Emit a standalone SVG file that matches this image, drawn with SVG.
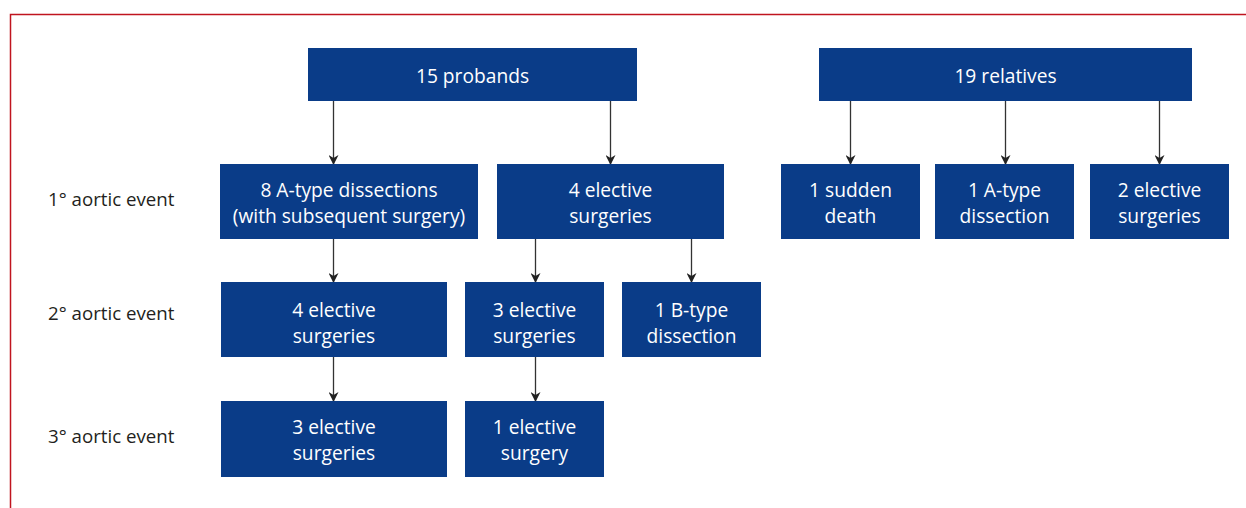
<svg xmlns="http://www.w3.org/2000/svg" width="1246" height="508" viewBox="0 0 1246 508">
<style>
.box{fill:#0a3c88}
.t{font-family:"Open Sans","Liberation Sans",sans-serif;font-size:19.2px;fill:#fff;text-anchor:middle}
.lab{font-family:"Open Sans","Liberation Sans",sans-serif;font-size:18.7px;fill:#231f20}
.c{stroke:#333;stroke-width:1.3;fill:none;marker-end:url(#ah)}
</style>
<defs>
<marker id="ah" markerWidth="10" markerHeight="10" refX="9" refY="5" orient="auto" markerUnits="userSpaceOnUse">
<path d="M0,0 L10,5 L0,10 L3,5 z" fill="#222"/>
</marker>
</defs>
<rect width="1246" height="508" fill="#fff"/>
<path d="M10.5,508 V14.5 H1246" fill="none" stroke="#c0141f" stroke-width="1.5"/>
<text class="lab" x="48" y="206">1° aortic event</text>
<text class="lab" x="48" y="320">2° aortic event</text>
<text class="lab" x="48" y="443">3° aortic event</text>
<g id="connectors">
<line class="c" x1="333.5" y1="100" x2="333.5" y2="164"/>
<line class="c" x1="610.5" y1="100" x2="610.5" y2="164"/>
<line class="c" x1="850.5" y1="100" x2="850.5" y2="164"/>
<line class="c" x1="1005.5" y1="100" x2="1005.5" y2="164"/>
<line class="c" x1="1159.5" y1="100" x2="1159.5" y2="164"/>
<line class="c" x1="333.5" y1="239" x2="333.5" y2="282"/>
<line class="c" x1="535.5" y1="239" x2="535.5" y2="282"/>
<line class="c" x1="691.5" y1="239" x2="691.5" y2="282"/>
<line class="c" x1="333.5" y1="357" x2="333.5" y2="401"/>
<line class="c" x1="535.5" y1="357" x2="535.5" y2="401"/>
</g>
<g id="probands"><rect class="box" x="308" y="48" width="329" height="53"/><text class="t" x="472.5" y="82.5">15 probands</text></g>
<g id="relatives"><rect class="box" x="819" y="48" width="373" height="53"/><text class="t" x="1005.5" y="82.5">19 relatives</text></g>
<g id="a8"><rect class="box" x="220" y="164" width="258" height="75"/><text class="t" x="349" y="197">8 A-type dissections</text><text class="t" x="349" y="223">(with subsequent surgery)</text></g>
<g id="e4"><rect class="box" x="497" y="164" width="227" height="75"/><text class="t" x="610.5" y="197">4 elective</text><text class="t" x="610.5" y="223">surgeries</text></g>
<g id="sd1"><rect class="box" x="781" y="164" width="139" height="75"/><text class="t" x="850.5" y="197">1 sudden</text><text class="t" x="850.5" y="223">death</text></g>
<g id="ra1"><rect class="box" x="935" y="164" width="139" height="75"/><text class="t" x="1004.5" y="197">1 A-type</text><text class="t" x="1004.5" y="223">dissection</text></g>
<g id="re2"><rect class="box" x="1090" y="164" width="139" height="75"/><text class="t" x="1159.5" y="197">2 elective</text><text class="t" x="1159.5" y="223">surgeries</text></g>
<g id="e4b"><rect class="box" x="221" y="282" width="226" height="75"/><text class="t" x="334" y="317">4 elective</text><text class="t" x="334" y="343">surgeries</text></g>
<g id="e3"><rect class="box" x="465" y="282" width="139" height="75"/><text class="t" x="534.5" y="317">3 elective</text><text class="t" x="534.5" y="343">surgeries</text></g>
<g id="b1"><rect class="box" x="622" y="282" width="139" height="75"/><text class="t" x="691.5" y="317">1 B-type</text><text class="t" x="691.5" y="343">dissection</text></g>
<g id="e3c"><rect class="box" x="221" y="401" width="226" height="76"/><text class="t" x="334" y="434">3 elective</text><text class="t" x="334" y="460">surgeries</text></g>
<g id="e1"><rect class="box" x="465" y="401" width="139" height="76"/><text class="t" x="534.5" y="434">1 elective</text><text class="t" x="534.5" y="460">surgery</text></g>
</svg>
